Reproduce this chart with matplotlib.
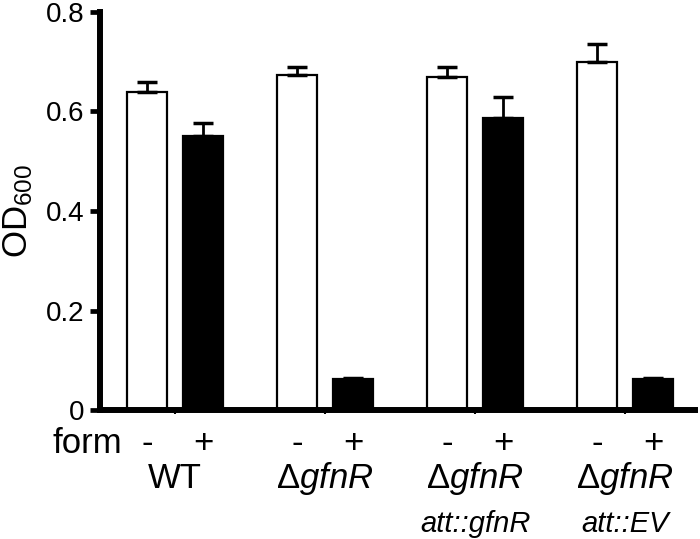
import matplotlib.pyplot as plt
import numpy as np

plt.rcParams['font.family'] = ['Liberation Sans', 'DejaVu Sans']
plt.rcParams['mathtext.fontset'] = 'custom'
plt.rcParams['mathtext.rm'] = 'Liberation Sans'
plt.rcParams['mathtext.it'] = 'Liberation Sans:italic'

# data
strains = ['WT', 'ΔgfnR', 'ΔgfnR\natt::gfnR', 'ΔgfnR\natt::EV']
od_minus = [0.639, 0.673, 0.669, 0.699]
err_minus = [0.020, 0.016, 0.020, 0.037]
od_plus = [0.551, 0.063, 0.587, 0.063]
err_plus = [0.026, 0.002, 0.042, 0.002]
yticks = [0, 0.2, 0.4, 0.6, 0.8]
ytick_labels = ['0', '0.2', '0.4', '0.6', '0.8']

group_pos = np.arange(len(strains)) * 2.68
pos_minus = group_pos
pos_plus = group_pos + 1.0
width = 0.71

fig = plt.figure(figsize=(7, 5.39), dpi=100)
ax = fig.add_axes([0.143, 0.239, 0.85, 0.739])

ekw = dict(elinewidth=2, capthick=2.5, capsize=7, ecolor='black')
ax.bar(pos_minus, od_minus, width, color='white', edgecolor='black', linewidth=1.6,
       yerr=[np.zeros(4), err_minus], error_kw=ekw, zorder=2)
ax.bar(pos_plus, od_plus, width, color='black', edgecolor='black', linewidth=1.6,
       yerr=[np.zeros(4), err_plus], error_kw=ekw, zorder=2)

ax.set_xlim(-0.84, 9.79)
ax.set_ylim(0, 0.8)

for s in ['top', 'right']:
    ax.spines[s].set_visible(False)
for s in ['left', 'bottom']:
    ax.spines[s].set_linewidth(4.3)

ax.set_yticks(yticks)
ax.set_yticklabels(ytick_labels, fontsize=20)
ax.tick_params(axis='y', length=7, width=3.4, pad=4)

# small ticks at group centres only
ax.set_xticks(group_pos + 0.5)
ax.set_xticklabels([])
ax.tick_params(axis='x', length=3, width=1.5)

# label rows under the axis
row_form = -0.086
row_strain = -0.156
row_att = -0.244

ax.text(-0.44, row_form, 'form', fontsize=25, ha='right', va='baseline')
for i in range(len(strains)):
    ax.text(pos_minus[i], row_form, '-', fontsize=25, ha='center', va='baseline')
    ax.text(pos_plus[i], row_form, '+', fontsize=25, ha='center', va='baseline')

for i, name in enumerate(strains):
    lines = name.split('\n')
    first = lines[0]
    if first.startswith('Δ'):
        first = 'Δ$\\mathit{' + first[1:] + '}$'
    ax.text(group_pos[i] + 0.5, row_strain, first, fontsize=25, ha='center', va='baseline')
    if len(lines) > 1:
        ax.text(group_pos[i] + 0.5, row_att, lines[1], fontsize=21, ha='center',
                va='baseline', style='italic')

ax.set_ylabel('OD$_{600}$', fontsize=25, labelpad=8)

fig.savefig('out.png', dpi=100)
